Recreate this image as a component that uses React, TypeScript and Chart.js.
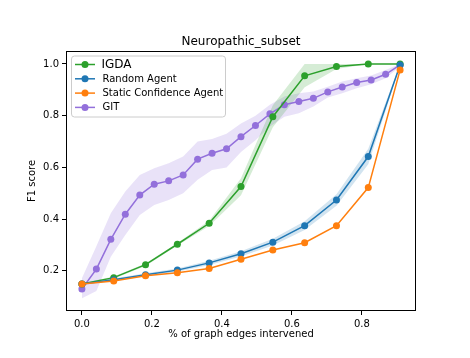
import React, { useEffect, useRef } from "react";
import { Chart, registerables } from "chart.js";

Chart.register(...registerables);

const TITLE = "Neuropathic_subset";
const X_LABEL = "% of graph edges intervened";
const Y_LABEL = "F1 score";
const X_TICKS = [0, 0.2, 0.4, 0.6, 0.8];
const Y_TICKS = [0.2, 0.4, 0.6, 0.8, 1.0];

const X_COARSE = [0, 0.0909, 0.1818, 0.2727, 0.3636, 0.4545, 0.5455, 0.6364, 0.7273, 0.8182, 0.9091];
const X_FINE = [
  0, 0.0413, 0.0826, 0.124, 0.1653, 0.2066, 0.2479, 0.2893, 0.3306, 0.3719, 0.4132, 0.4545,
  0.4959, 0.5372, 0.5785, 0.6198, 0.6612, 0.7025, 0.7438, 0.7851, 0.8264, 0.8678, 0.9091,
];

const IGDA = [0.149, 0.174, 0.224, 0.303, 0.384, 0.526, 0.796, 0.954, 0.99, 1.0, 1.0];
const IGDA_UP = [0.152, 0.178, 0.229, 0.308, 0.394, 0.558, 0.84, 1.0, 1.0, 1.0, 1.0];
const IGDA_LO = [0.146, 0.17, 0.219, 0.298, 0.374, 0.492, 0.755, 0.91, 0.98, 1.0, 1.0];

const RANDOM = [0.149, 0.166, 0.185, 0.203, 0.231, 0.266, 0.311, 0.375, 0.474, 0.642, 0.996];
const RANDOM_UP = [0.153, 0.171, 0.191, 0.209, 0.239, 0.276, 0.324, 0.392, 0.496, 0.672, 1.0];
const RANDOM_LO = [0.145, 0.161, 0.179, 0.197, 0.223, 0.256, 0.298, 0.358, 0.452, 0.612, 0.992];

const STATIC = [0.149, 0.161, 0.181, 0.193, 0.209, 0.245, 0.281, 0.309, 0.375, 0.522, 0.977];

const GIT = [
  0.13, 0.207, 0.322, 0.419, 0.493, 0.535, 0.548, 0.571, 0.632, 0.655, 0.672, 0.719,
  0.762, 0.807, 0.842, 0.855, 0.867, 0.892, 0.911, 0.928, 0.938, 0.96, 0.996,
];
const GIT_UP = [
  0.172, 0.295, 0.423, 0.507, 0.571, 0.597, 0.616, 0.642, 0.7, 0.71, 0.73, 0.77,
  0.8, 0.842, 0.874, 0.887, 0.893, 0.912, 0.932, 0.945, 0.955, 0.977, 1.0,
];
const GIT_LO = [
  0.094, 0.122, 0.255, 0.339, 0.416, 0.455, 0.474, 0.5, 0.552, 0.59, 0.6, 0.66,
  0.705, 0.758, 0.796, 0.809, 0.835, 0.87, 0.887, 0.906, 0.921, 0.945, 0.99,
];

const LABELS = ["IGDA", "Random Agent", "Static Confidence Agent", "GIT"];

const GREEN = "#2ca02c";
const BLUE = "#1f77b4";
const ORANGE = "#ff7f0e";
const PURPLE = "#9370db";

const FONT = "'DejaVu Sans', 'Liberation Sans', sans-serif";

const pts = (xs: number[], ys: number[]) => xs.map((x, i) => ({ x, y: ys[i] }));

const lineDs = (label: string, xs: number[], ys: number[], color: string, order: number, rank: number) => ({
  label,
  data: pts(xs, ys),
  borderColor: color,
  backgroundColor: color,
  borderWidth: 1.5,
  pointRadius: 3.5,
  pointBorderWidth: 0,
  pointBackgroundColor: color,
  fill: false,
  tension: 0,
  order,
  legendRank: rank,
});

const bandLo = (xs: number[], ys: number[]) => ({
  label: "_lo",
  data: pts(xs, ys),
  borderColor: "rgba(0,0,0,0)",
  borderWidth: 0,
  pointRadius: 0,
  fill: false,
  tension: 0,
  order: 10,
});
const bandUp = (xs: number[], ys: number[], fillColor: string) => ({
  label: "_up",
  data: pts(xs, ys),
  borderColor: "rgba(0,0,0,0)",
  borderWidth: 0,
  pointRadius: 0,
  fill: "-1",
  backgroundColor: fillColor,
  tension: 0,
  order: 10,
});

const decorPlugin = {
  id: "decor",
  afterDatasetsDraw(chart: any) {
    const { ctx, chartArea } = chart;
    ctx.save();
    ctx.strokeStyle = "#000";
    ctx.lineWidth = 1;
    ctx.strokeRect(
      Math.round(chartArea.left) + 0.5,
      Math.round(chartArea.top) + 0.5,
      Math.round(chartArea.right - chartArea.left) - 1,
      Math.round(chartArea.bottom - chartArea.top) - 1
    );
    ctx.restore();
  },
  afterDraw(chart: any) {
    const { ctx, chartArea } = chart;
    ctx.save();
    // title
    ctx.fillStyle = "#000";
    ctx.font = `12px ${FONT}`;
    ctx.textAlign = "center";
    ctx.textBaseline = "alphabetic";
    ctx.fillText(TITLE, (chartArea.left + chartArea.right) / 2, chartArea.top - 6);

    // legend
    const x0 = chartArea.left + 5.5;
    const y0 = chartArea.top + 5;
    const w = 154;
    const h = 61;
    const r = 3;
    ctx.beginPath();
    ctx.moveTo(x0 + r, y0);
    ctx.lineTo(x0 + w - r, y0);
    ctx.arcTo(x0 + w, y0, x0 + w, y0 + r, r);
    ctx.lineTo(x0 + w, y0 + h - r);
    ctx.arcTo(x0 + w, y0 + h, x0 + w - r, y0 + h, r);
    ctx.lineTo(x0 + r, y0 + h);
    ctx.arcTo(x0, y0 + h, x0, y0 + h - r, r);
    ctx.lineTo(x0, y0 + r);
    ctx.arcTo(x0, y0, x0 + r, y0, r);
    ctx.closePath();
    ctx.fillStyle = "rgba(255,255,255,0.8)";
    ctx.fill();
    ctx.strokeStyle = "#cccccc";
    ctx.lineWidth = 1;
    ctx.stroke();

    const items = chart.data.datasets
      .filter((d: any) => d.legendRank !== undefined)
      .sort((a: any, b: any) => a.legendRank - b.legendRank);
    const sizes = [12, 10, 10, 10];
    items.forEach((d: any, i: number) => {
      const y = y0 + 8.5 + i * 14.3;
      ctx.strokeStyle = d.borderColor;
      ctx.lineWidth = 1.5;
      ctx.beginPath();
      ctx.moveTo(x0 + 3.5, y);
      ctx.lineTo(x0 + 23.5, y);
      ctx.stroke();
      ctx.fillStyle = d.borderColor;
      ctx.beginPath();
      ctx.arc(x0 + 13.5, y, 3.5, 0, Math.PI * 2);
      ctx.fill();
      ctx.fillStyle = "#000";
      ctx.font = `${sizes[i] || 10}px ${FONT}`;
      ctx.textAlign = "left";
      ctx.textBaseline = "middle";
      ctx.fillText(d.label, x0 + (i === 0 ? 30 : 31), y + 0.5);
    });
    ctx.restore();
  },
};

export default function App() {
  const ref = useRef<HTMLCanvasElement | null>(null);

  useEffect(() => {
    if (!ref.current) return;
    Chart.defaults.font.family = FONT;
    const chart = new Chart(ref.current, {
      type: "line",
      data: {
        datasets: [
          lineDs(LABELS[3], X_FINE, GIT, PURPLE, 4, 3),
          lineDs(LABELS[0], X_COARSE, IGDA, GREEN, 3, 0),
          lineDs(LABELS[1], X_COARSE, RANDOM, BLUE, 2, 1),
          lineDs(LABELS[2], X_COARSE, STATIC, ORANGE, 1, 2),
          bandLo(X_COARSE, IGDA_LO),
          bandUp(X_COARSE, IGDA_UP, "rgba(44,160,44,0.2)"),
          bandLo(X_COARSE, RANDOM_LO),
          bandUp(X_COARSE, RANDOM_UP, "rgba(31,119,180,0.2)"),
          bandLo(X_FINE, GIT_LO),
          bandUp(X_FINE, GIT_UP, "rgba(147,112,219,0.2)"),
        ] as any,
      },
      plugins: [decorPlugin],
      options: {
        responsive: false,
        animation: false,
        layout: { padding: { left: 22, right: 54, top: 51, bottom: 14 } },
        plugins: {
          legend: { display: false },
          title: { display: false },
          tooltip: { enabled: false },
          filler: { propagate: false, drawTime: "beforeDatasetsDraw" },
        } as any,
        scales: {
          x: {
            type: "linear",
            min: -0.04545,
            max: 0.95454,
            afterBuildTicks: (s: any) => {
              s.ticks = X_TICKS.map((v) => ({ value: v }));
            },
            afterFit: (s: any) => {
              s.height = 33;
            },
            grid: { drawOnChartArea: false, drawTicks: true, tickLength: 4, color: "#000", lineWidth: 1 },
            border: { display: false },
            ticks: {
              color: "#000",
              font: { size: 10 },
              padding: 3,
              maxRotation: 0,
              autoSkip: false,
              callback: (v: any) => Number(v).toFixed(1),
            },
            title: { display: true, text: X_LABEL, color: "#000", font: { size: 10 }, padding: { top: 4, bottom: 4 } },
          },
          y: {
            type: "linear",
            min: 0.045,
            max: 1.05,
            afterBuildTicks: (s: any) => {
              s.ticks = Y_TICKS.map((v) => ({ value: v }));
            },
            afterFit: (s: any) => {
              s.width = 44;
            },
            grid: { drawOnChartArea: false, drawTicks: true, tickLength: 4, color: "#000", lineWidth: 1 },
            border: { display: false },
            ticks: {
              color: "#000",
              font: { size: 10 },
              padding: 3,
              autoSkip: false,
              callback: (v: any) => Number(v).toFixed(1),
            },
            title: { display: true, text: Y_LABEL, color: "#000", font: { size: 10 }, padding: { top: 4, bottom: 4 } },
          },
        } as any,
      },
    });
    return () => chart.destroy();
  }, []);

  return (
    <div style={{ position: "fixed", left: 0, top: 0, width: 470, height: 358, background: "#fff" }}>
      <canvas ref={ref} width={470} height={358} style={{ display: "block" }} />
    </div>
  );
}
